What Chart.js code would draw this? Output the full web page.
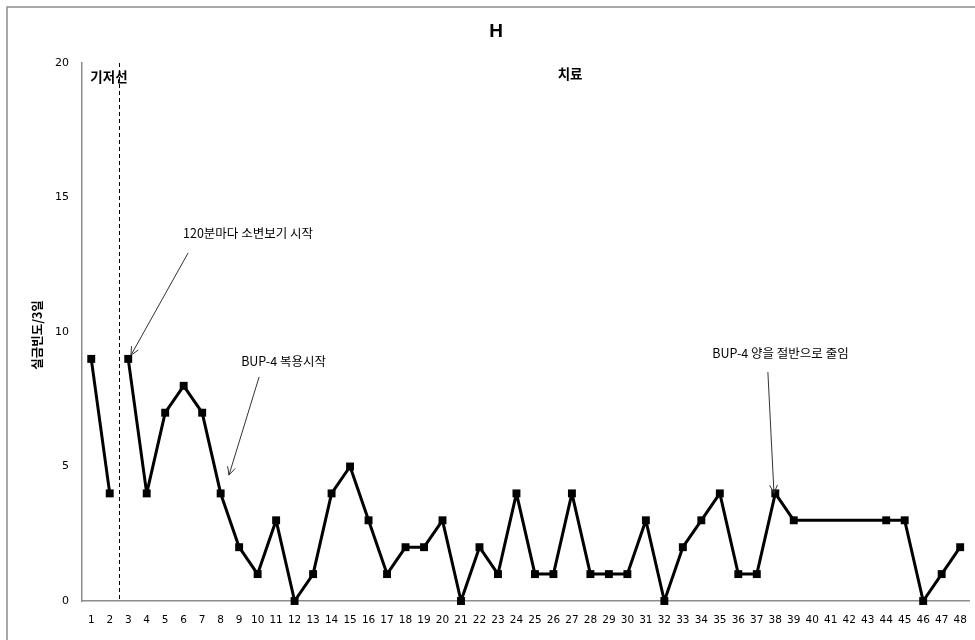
<!DOCTYPE html>
<html>
<head>
<meta charset="utf-8">
<script src="https://cdn.jsdelivr.net/npm/chart.js@4"></script>
<style>
html,body{margin:0;padding:0;background:#fff;}
#wrap{width:975px;height:640px;position:relative;}
</style>
</head>
<body>
<div id="wrap"><canvas id="c" width="975" height="640"></canvas></div>
<script>
const categories = ['1','2','3','4','5','6','7','8','9','10','11','12','13','14','15','16','17','18','19','20','21','22','23','24','25','26','27','28','29','30','31','32','33','34','35','36','37','38','39','40','41','42','43','44','45','46','47','48'];
const baselineValues = [9,4,null,null,null,null,null,null,null,null,null,null,null,null,null,null,null,null,null,null,null,null,null,null,null,null,null,null,null,null,null,null,null,null,null,null,null,null,null,null,null,null,null,null,null,null,null,null];
const treatmentValues = [null,null,9,4,7,8,7,4,2,1,3,0,1,4,5,3,1,2,2,3,0,2,1,4,1,1,4,1,1,1,3,0,2,3,4,1,1,4,3,null,null,null,null,3,3,0,1,2];
const yTicks = [0,5,10,15,20];
const chartTitle = 'H';
const yAxisLabel = '실금빈도/3일';
const phaseLabels = [{text:'기저선', x:0.96, y:19.48}, {text:'치료', x:25.9, y:19.6}];
const phaseLineAt = 1.5;
const notes = [
  {text:'120분마다 소변보기 시작', tx:8.48, ty:13.68, from:[5.24,12.94], to:[2.15,9.14]},
  {text:'BUP-4 복용시작', tx:10.4, ty:8.92, from:[9.08,8.33], to:[7.45,4.68]},
  {text:'BUP-4 양을 절반으로 줄임', tx:37.28, ty:9.22, from:[36.6,8.51], to:[36.93,4.01]}
];

const KR = '"Noto Sans CJK KR", "Noto Sans", sans-serif';

const decor = {
  id:'decor',
  beforeDraw(chart){
    const ctx = chart.ctx;
    ctx.save();
    ctx.fillStyle='#fff';
    ctx.fillRect(0,0,chart.width,chart.height);
    ctx.strokeStyle='#8c8c8c';
    ctx.lineWidth=1.5;
    ctx.beginPath();
    ctx.moveTo(7,chart.height);
    ctx.lineTo(7,7);
    ctx.lineTo(chart.width,7);
    ctx.stroke();
    ctx.restore();
  },
  afterDatasetsDraw(chart){
    const ctx = chart.ctx;
    const xs = chart.scales.x, ys = chart.scales.y;
    const area = chart.chartArea;
    ctx.save();
    const px = Math.round(xs.getPixelForValue(phaseLineAt))+0.5;
    ctx.strokeStyle='#000';
    ctx.lineWidth=1;
    ctx.setLineDash([4,3]);
    ctx.beginPath();
    ctx.moveTo(px, ys.getPixelForValue(20));
    ctx.lineTo(px, ys.getPixelForValue(0));
    ctx.stroke();
    ctx.setLineDash([]);
    ctx.fillStyle='#000';
    ctx.textAlign='center';
    ctx.textBaseline='middle';
    ctx.font='bold 19px "Liberation Sans", Arial, sans-serif';
    ctx.fillText(chartTitle, 496, 32);
    ctx.save();
    ctx.translate(37,(area.top+area.bottom)/2+3);
    ctx.rotate(-Math.PI/2);
    ctx.font='bold 12.5px '+KR;
    ctx.fillText(yAxisLabel,0,0);
    ctx.restore();
    ctx.font='bold 13.5px '+KR;
    phaseLabels.forEach(p=>{
      ctx.fillText(p.text, xs.getPixelForValue(p.x), ys.getPixelForValue(p.y));
    });
    ctx.font='12.5px '+KR;
    notes.forEach(n=>{
      ctx.fillStyle='#000';
      ctx.fillText(n.text, xs.getPixelForValue(n.tx), ys.getPixelForValue(n.ty));
      const x1=xs.getPixelForValue(n.from[0]), y1=ys.getPixelForValue(n.from[1]);
      const x2=xs.getPixelForValue(n.to[0]), y2=ys.getPixelForValue(n.to[1]);
      ctx.strokeStyle='#333';
      ctx.lineWidth=1;
      ctx.beginPath();
      ctx.moveTo(x1,y1); ctx.lineTo(x2,y2);
      const a=Math.atan2(y2-y1,x2-x1), L=9, w=0.45;
      ctx.moveTo(x2-L*Math.cos(a-w), y2-L*Math.sin(a-w));
      ctx.lineTo(x2,y2);
      ctx.lineTo(x2-L*Math.cos(a+w), y2-L*Math.sin(a+w));
      ctx.stroke();
    });
    ctx.restore();
  }
};

const ds = (data)=>({
  data, borderColor:'#000', backgroundColor:'#000', borderWidth:3, borderJoinStyle:'round',
  pointStyle:'rect', pointRadius:5.6, pointHoverRadius:5.6, pointBorderWidth:0,
  spanGaps:true, tension:0, clip:false
});

new Chart(document.getElementById('c'), {
  type:'line',
  data:{ labels:categories, datasets:[ds(baselineValues), ds(treatmentValues)] },
  options:{
    responsive:false, animation:false, devicePixelRatio:1,
    layout:{padding:{left:0, top:63, right:5.5, bottom:0}},
    plugins:{legend:{display:false}, tooltip:{enabled:false}, title:{display:false}},
    scales:{
      x:{
        offset:true,
        grid:{display:false, drawTicks:false},
        border:{display:true, color:'#8c8c8c', width:1.5},
        ticks:{color:'#000', font:{family:'"DejaVu Sans", sans-serif', size:10.5}, padding:13, maxRotation:0, autoSkip:false},
        afterFit(s){ s.height = 39; s.paddingLeft = 0; s.paddingRight = 0; }
      },
      y:{
        min:0, max:20,
        afterBuildTicks(s){ s.ticks = yTicks.map(v=>({value:v})); },
        grid:{display:false, drawTicks:false},
        border:{display:true, color:'#8c8c8c', width:1.5},
        ticks:{color:'#000', font:{family:'"DejaVu Sans", sans-serif', size:11}, padding:13},
        afterFit(s){ s.width = 82; s.paddingTop = 0; s.paddingBottom = 0; }
      }
    }
  },
  plugins:[decor]
});
</script>
</body>
</html>
